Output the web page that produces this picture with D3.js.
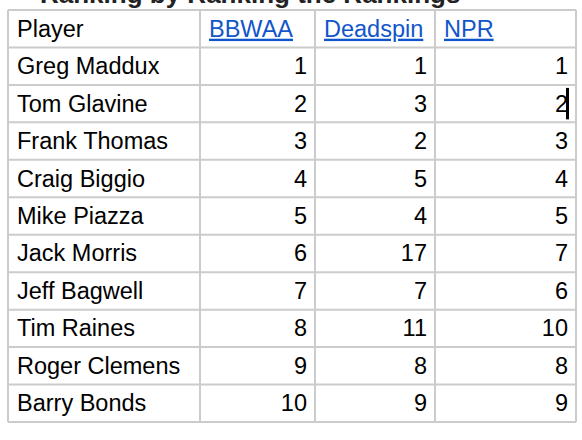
<!DOCTYPE html><html><head><meta charset="utf-8">
<script src="https://cdn.jsdelivr.net/npm/d3@7"></script>
<style>body{margin:0;background:#fff}</style></head><body>
<svg id="c" width="582" height="440"></svg>
<script>
const columns=["Player","BBWAA","Deadspin","NPR"];
const players=["Greg Maddux","Tom Glavine","Frank Thomas","Craig Biggio","Mike Piazza","Jack Morris","Jeff Bagwell","Tim Raines","Roger Clemens","Barry Bonds"];
const bbwaa=[1,2,3,4,5,6,7,8,9,10];
const deadspin=[1,3,2,5,4,17,7,11,8,9];
const npr=[1,2,3,4,5,7,6,10,8,9];
const title="Ranking by Ranking the Rankings";

const svg=d3.select("#c");
const x=d3.scaleOrdinal().domain(columns).range([8,200,315,435]);
const colEdges=[8,200,315,435,576];
const y=d3.scaleBand().domain(d3.range(players.length+1)).range([10,422]);
const font="'Liberation Sans',Arial,sans-serif";

svg.append("text").attr("x",40).attr("y",3).attr("font-family",font).attr("font-weight","bold").attr("font-size",26).attr("fill","#222").text(title);

const g=svg.append("g");
y.domain().forEach(i=>{
  g.append("line").attr("x1",8).attr("x2",576).attr("y1",y(i)).attr("y2",y(i)).attr("stroke","#ccc").attr("stroke-width",2);
});
g.append("line").attr("x1",8).attr("x2",576).attr("y1",422).attr("y2",422).attr("stroke","#ccc").attr("stroke-width",2);
colEdges.forEach(cx=>g.append("line").attr("x1",cx).attr("x2",cx).attr("y1",10).attr("y2",422).attr("stroke","#ccc").attr("stroke-width",2));

const mid=i=>y(i)+y.bandwidth()/2+8;
const fs=23.5;
columns.forEach((c,j)=>{
  const t=g.append("text").attr("x",x(c)+9).attr("y",mid(0)).attr("font-family",font).attr("font-size",fs).text(c);
  if(j>0)t.attr("fill","#1155cc").attr("text-decoration","underline");else t.attr("fill","#000");
});
const series=[bbwaa,deadspin,npr];
players.forEach((p,i)=>{
  g.append("text").attr("x",x("Player")+9).attr("y",mid(i+1)).attr("font-family",font).attr("font-size",fs).text(p);
  series.forEach((s,k)=>{
    g.append("text").attr("x",colEdges[k+2]-8).attr("y",mid(i+1)).attr("text-anchor","end").attr("font-family",font).attr("font-size",fs).text(s[i]);
  });
});
g.append("rect").attr("x",566).attr("y",y(2)+3).attr("width",3).attr("height",y.bandwidth()-6).attr("fill","#000");
</script></body></html>
